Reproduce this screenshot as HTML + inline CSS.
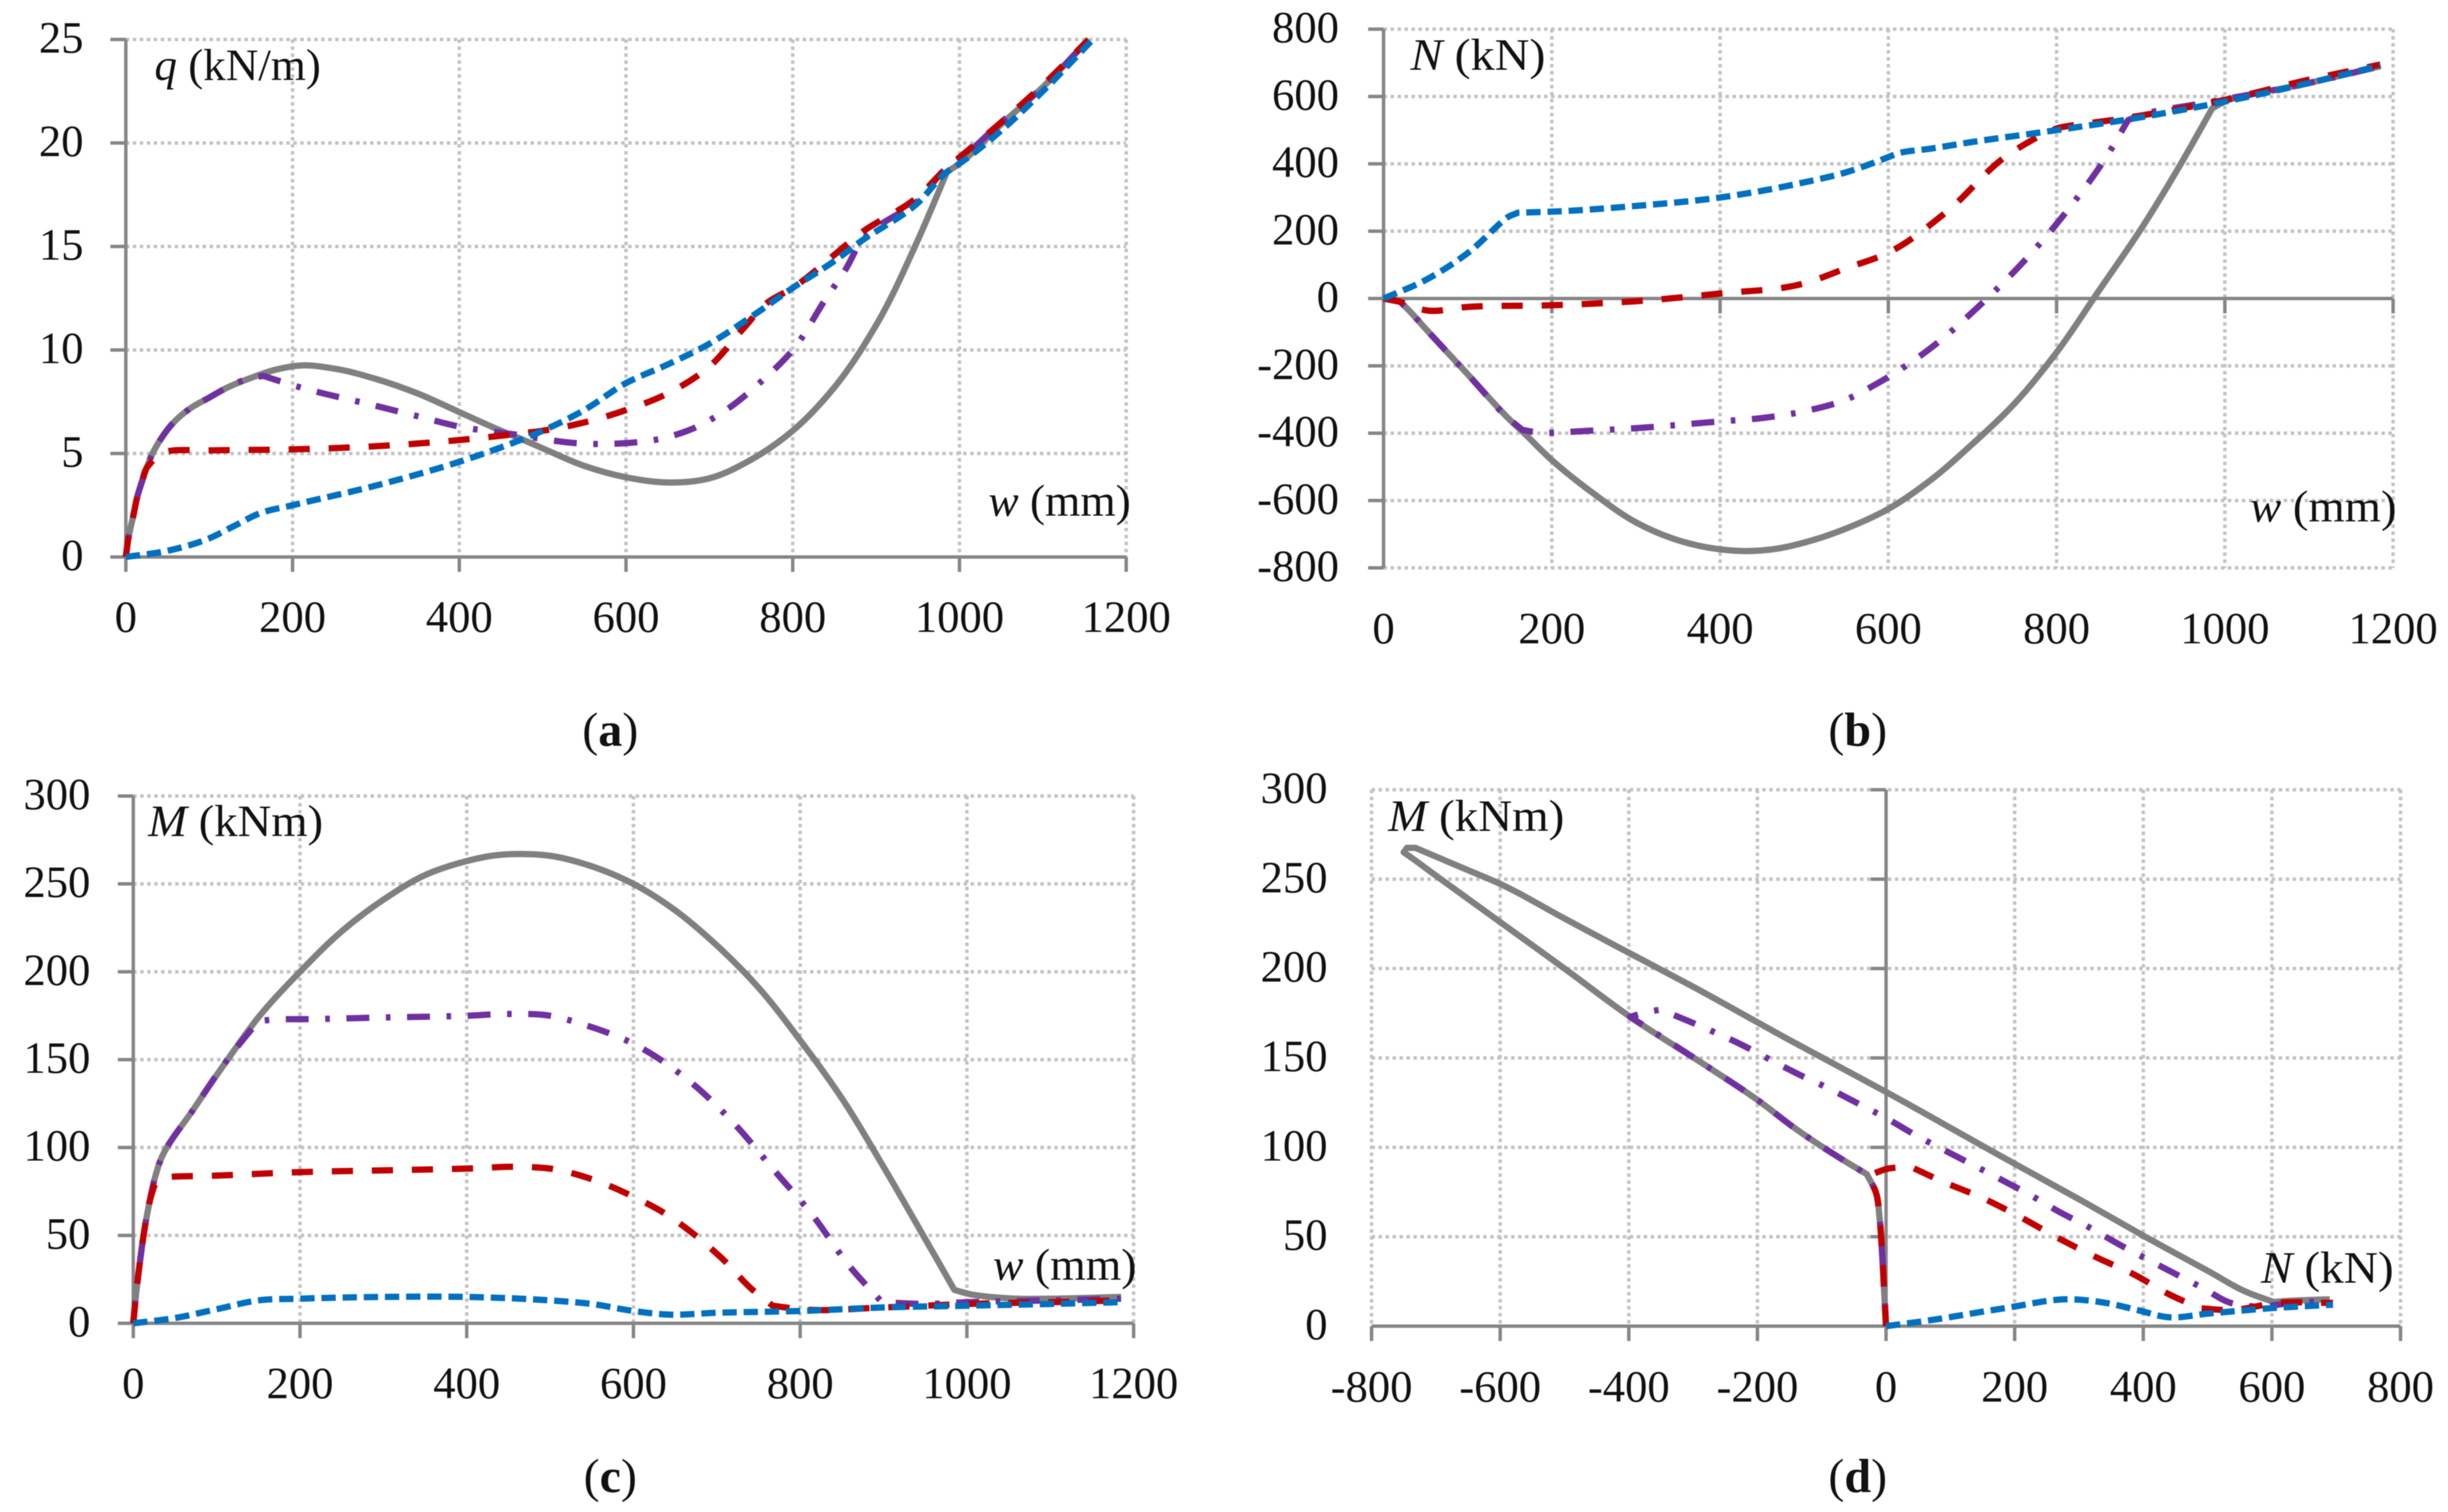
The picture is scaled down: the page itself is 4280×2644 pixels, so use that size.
<!DOCTYPE html>
<html lang="en">
<head>
<meta charset="utf-8">
<title>Load, axial force and bending moment curves</title>
<style>
html,body{margin:0;padding:0;background:#fff;}
#figure{display:block;filter:blur(0.9px);}
text{font-family:"Liberation Serif","DejaVu Serif",serif;font-size:78px;fill:#111;}
.cap{font-size:84px;}
.cap-letter{font-weight:bold;}
.it{font-style:italic;}
</style>
</head>
<body>
<svg id="figure" xmlns="http://www.w3.org/2000/svg" width="4280" height="2644" viewBox="0 0 4280 2644">
  <rect width="4280" height="2644" fill="#fff"/>

  <g id="panel-a"></g>
  <g id="panel-b"></g>
  <g id="panel-c"></g>
  <g id="panel-d"></g>

  <text x="270" y="140" textLength="291" lengthAdjust="spacingAndGlyphs"><tspan class="it">q</tspan> (kN/m)</text>
  <text x="1728" y="902" textLength="249" lengthAdjust="spacingAndGlyphs"><tspan class="it">w</tspan> (mm)</text>
  <text class="cap" x="1067" y="1304" text-anchor="middle">(<tspan class="cap-letter">a</tspan>)</text>

  <text x="2466" y="122" textLength="236" lengthAdjust="spacingAndGlyphs"><tspan class="it">N</tspan> (kN)</text>
  <text x="3934" y="912" textLength="256" lengthAdjust="spacingAndGlyphs"><tspan class="it">w</tspan> (mm)</text>
  <text class="cap" x="3248" y="1304" text-anchor="middle">(<tspan class="cap-letter">b</tspan>)</text>

  <text x="259" y="1462" textLength="306" lengthAdjust="spacingAndGlyphs"><tspan class="it">M</tspan> (kNm)</text>
  <text x="1736" y="2238" textLength="251" lengthAdjust="spacingAndGlyphs"><tspan class="it">w</tspan> (mm)</text>
  <text class="cap" x="1067" y="2609" text-anchor="middle">(<tspan class="cap-letter">c</tspan>)</text>

  <text x="2427" y="1453" textLength="308" lengthAdjust="spacingAndGlyphs"><tspan class="it">M</tspan> (kNm)</text>
  <text x="3953" y="2243" textLength="232" lengthAdjust="spacingAndGlyphs"><tspan class="it">N</tspan> (kN)</text>
  <text class="cap" x="3248" y="2609" text-anchor="middle">(<tspan class="cap-letter">d</tspan>)</text>
</svg>

<script>
// ---------- tick labels ----------
const wTicks = [0, 200, 400, 600, 800, 1000, 1200];
const qTicks = [0, 5, 10, 15, 20, 25];
const nTicksY = [-800, -600, -400, -200, 0, 200, 400, 600, 800];
const mTicks = [0, 50, 100, 150, 200, 250, 300];
const nTicksX = [-800, -600, -400, -200, 0, 200, 400, 600, 800];

// ---------- panel (a): q vs w ----------
const aGrayW = [0,3,9,14,19,25,32,42,55,78,100,120,150,180,210,250,300,350,400,450,480,500,550,600,650,700,750,800,850,900,950,985,1000,1050,1100,1155];
const aGrayQ = [0,0.9,2,2.95,3.6,4.3,5,5.7,6.4,7.2,7.7,8.15,8.65,9.05,9.25,9.1,8.6,7.9,7,6.1,5.6,5.25,4.4,3.85,3.6,3.8,4.7,6.1,8.2,11.2,15.3,18.6,19,20.9,22.7,25];
const aPurpleW = [0,3,9,14,19,25,32,42,55,78,100,120,150,165,200,300,350,400,450,470,500,540,600,640,680,720,760,800,840,865,880,900,950,985,1000,1050,1100,1155];
const aPurpleQ = [0,0.9,2,2.95,3.6,4.3,5,5.7,6.4,7.2,7.7,8.15,8.65,8.75,8.3,7.3,6.8,6.3,6,5.9,5.7,5.5,5.5,5.7,6.2,7.1,8.4,10,12.5,14,15.2,15.9,17.2,18.8,19.2,21,22.7,25];
const aRedW = [0,3,9,14,19,25,31,40,50,100,200,300,400,470,500,550,600,650,700,740,770,800,850,880,950,985,1000,1050,1100,1155];
const aRedQ = [0,0.9,2,2.95,3.6,4.3,4.6,4.95,5.1,5.15,5.2,5.35,5.65,5.95,6.1,6.5,7.1,7.9,9.2,11,12.3,13,14.6,15.6,17.4,18.8,19.3,21,22.8,25];
const aBlueW = [0,50,100,130,160,200,300,400,470,500,550,600,650,700,750,800,850,880,950,985,1000,1050,1100,1160];
const aBlueQ = [0,0.3,0.9,1.5,2.1,2.5,3.45,4.6,5.6,6.1,7.1,8.4,9.3,10.3,11.6,13,14.3,15.2,17.1,18.6,19,20.6,22.5,25];

// ---------- panel (b): N vs w ----------
const bGrayW = [0,20,30,50,100,150,165,200,250,300,350,400,430,470,500,550,600,650,700,750,800,850,900,950,985,1000,1100,1185];
const bGrayN = [0,-10,-35,-90,-225,-360,-395,-480,-580,-665,-718,-745,-750,-742,-725,-683,-625,-540,-432,-312,-160,22,205,410,565,585,640,690];
const bPurpleW = [0,20,30,50,100,150,165,180,250,300,400,450,500,550,585,650,708,761,813,859,885,900,985,1100,1185];
const bPurpleN = [0,-10,-35,-90,-225,-360,-390,-397,-392,-385,-365,-355,-335,-300,-255,-148,-22,110,262,420,530,545,585,640,690];
const bRedW = [0,20,35,50,100,200,300,400,500,550,599,668,743,790,800,880,1000,1100,1185];
const bRedN = [0,-10,-25,-35,-25,-20,-8,15,45,90,135,255,428,495,505,535,590,650,695];
const bBlueW = [0,50,100,150,160,200,300,400,500,550,600,610,650,700,800,880,1000,1100,1185];
const bBlueN = [0,55,135,245,255,258,275,300,345,375,420,430,445,465,500,530,585,640,692];

// ---------- panel (c): M vs w ----------
const cGrayW = [0,3,8,14,20,25,32,74,116,150,200,250,300,350,400,430,465,500,550,600,650,700,750,800,850,900,950,985,1000,1060,1100,1185];
const cGrayM = [0,15,35,55,70,81,92,123,152,174,200,223,241,255,263,266,267,266,260,250,235,215,191,161,128,89,48,19,17,14,14,15];
const cPurpleW = [0,3,8,14,20,25,32,74,116,150,175,200,300,400,450,500,540,600,664,720,767,814,860,898,950,1000,1100,1185];
const cPurpleM = [0,15,35,55,70,81,92,123,152,172,173,173,174,175,176,175,170,159,139,114,88,62,32,12,11,12,13,14];
const cRedW = [0,3,8,14,20,25,32,40,100,200,300,400,470,500,550,600,636,669,706,743,767,800,900,1000,1100,1185];
const cRedM = [0,15,35,55,70,78,82,83,84,86,87,88,89,88,82,72,63,52,37,19,10,8,9,11,12,13];
const cBlueW = [0,50,100,150,200,300,400,500,550,600,640,700,800,900,1000,1100,1185];
const cBlueM = [0,3,8,13,14,15,15,13,11,7,5,6,7,9,10,11,12];

// ---------- panel (d): M vs N ----------
const dGrayN = [0,-3,-6,-10,-16,-30,-58,-143,-198,-277,-398,-500,-604,-700,-738,-750,-745,-732,-650,-604,-500,-422,-301,-150,0,184,300,403,500,561,603,620,690];
const dGrayM = [0,20,40,60,75,85,91,111,126,145,173,200,227,252,262,265,267.5,267.5,255,248,228,213,190,160,131,94,71,50,31,19,13.5,14,15];
const dPurpleN = [0,-3,-6,-10,-16,-30,-58,-143,-198,-277,-398,-368,-350,-277,-228,-180,-137,-95,-46,2,45,93,136,184,221,269,312,366,403,451,494,536,573,633,690];
const dPurpleM = [0,20,40,60,75,85,91,111,126,145,173,176,177,166,158,149,141,134,125,116,107,98,90,81,74,64,56,45,38,29,21,13,11,13,14];
const dRedN = [0,-3,-6,-10,-16,-28,2,39,87,148,209,269,330,385,439,488,536,609,695];
const dRedM = [0,20,40,60,75,84,88,89,81,72,61,49,38,29,18,10,9,13,13];
const dBlueN = [0,63,184,288,342,391,439,500,597,695];
const dBlueM = [0,3,10,15,13,9,5,7,10,12];

// ---------- shared drawing ----------
const NS = 'http://www.w3.org/2000/svg';
const AXIS = '#868686', GRID = '#c2c2c2';
const STYLE_GRAY = {color:'#808080', dash:'', width:11};
const STYLE_PURPLE = {color:'#7030a0', dash:'40 29 8 29', width:11};
const STYLE_RED = {color:'#c00000', dash:'37 33', width:11};
const STYLE_BLUE = {color:'#0070c0', dash:'25 12', width:11};

function make(tag, attrs, parent){
  const el = document.createElementNS(NS, tag);
  for (const k in attrs) el.setAttribute(k, attrs[k]);
  parent.appendChild(el);
  return el;
}

function linearScale(d0, d1, p0, p1){
  return v => p0 + (v - d0) / (d1 - d0) * (p1 - p0);
}

// Non-uniform Catmull-Rom through the data points; a sharp bend stays a corner,
// and control handles are capped by the neighbouring segment to avoid overshoot.
function smoothPath(xs, ys, sx, sy){
  const pts = xs.map((x, i) => [sx(x), sy(ys[i])]);
  const n = pts.length;
  const dist = (a, b) => Math.hypot(b[0] - a[0], b[1] - a[1]) || 1;
  const tangents = pts.map((p, i) => {
    if (i === 0 || i === n - 1){
      const a = pts[i === 0 ? 0 : i - 1], b = pts[i === 0 ? 1 : i];
      const l = dist(a, b);
      const u = [(b[0] - a[0]) / l, (b[1] - a[1]) / l];
      return {inn:u, out:u};
    }
    const a = pts[i - 1], b = pts[i + 1];
    const d0 = dist(a, p), d1 = dist(p, b);
    const u0 = [(p[0] - a[0]) / d0, (p[1] - a[1]) / d0];
    const u1 = [(b[0] - p[0]) / d1, (b[1] - p[1]) / d1];
    if (u0[0] * u1[0] + u0[1] * u1[1] < 0.94) return {inn:u0, out:u1};
    const t = [(u0[0] * d1 + u1[0] * d0) / (d0 + d1), (u0[1] * d1 + u1[1] * d0) / (d0 + d1)];
    return {inn:t, out:t};
  });
  let d = 'M' + pts[0][0].toFixed(1) + ' ' + pts[0][1].toFixed(1);
  for (let i = 0; i < n - 1; i++){
    const p = pts[i], q = pts[i + 1], seg = dist(p, q);
    const prevSeg = i > 0 ? dist(pts[i - 1], p) : seg;
    const nextSeg = i < n - 2 ? dist(q, pts[i + 2]) : seg;
    const len0 = Math.min(seg / 3, prevSeg), len1 = Math.min(seg / 3, nextSeg);
    const t0 = tangents[i].out, t1 = tangents[i + 1].inn;
    d += 'C' + (p[0] + t0[0] * len0).toFixed(1) + ' ' + (p[1] + t0[1] * len0).toFixed(1) + ' ' +
         (q[0] - t1[0] * len1).toFixed(1) + ' ' + (q[1] - t1[1] * len1).toFixed(1) + ' ' +
         q[0].toFixed(1) + ' ' + q[1].toFixed(1);
  }
  return d;
}

function drawFrame(root, cfg){
  const sx = linearScale(cfg.xTicks[0], cfg.xTicks[cfg.xTicks.length - 1], cfg.left, cfg.right);
  const sy = linearScale(cfg.yTicks[0], cfg.yTicks[cfg.yTicks.length - 1], cfg.bottom, cfg.top);
  const axisX = sx(cfg.yAxisAt), axisY = sy(cfg.xAxisAt);

  cfg.xTicks.forEach(v => {
    const gridline = make('line', {x1:sx(v), x2:sx(v), y1:cfg.top, y2:cfg.bottom, stroke:GRID, 'stroke-width':6, 'stroke-dasharray':'6 6.2'}, root);
    
    
  });
  cfg.yTicks.forEach(v => {
    const gridline = make('line', {x1:cfg.left, x2:cfg.right, y1:sy(v), y2:sy(v), stroke:GRID, 'stroke-width':6, 'stroke-dasharray':'6 6.2'}, root);
    
    
  });

  const xAxis = make('line', {x1:cfg.left, x2:cfg.right, y1:axisY, y2:axisY, stroke:AXIS, 'stroke-width':6}, root);
  
  
  const yAxis = make('line', {x1:axisX, x2:axisX, y1:cfg.top, y2:cfg.bottom, stroke:AXIS, 'stroke-width':6}, root);
  
  

  cfg.xTicks.forEach(v => {
    const tick = make('line', {x1:sx(v), x2:sx(v), y1:axisY, y2:axisY + 26, stroke:AXIS, 'stroke-width':6}, root);
    
    
    const label = make('text', {x:sx(v), y:cfg.xLabelY, 'text-anchor':'middle'}, root);
    label.textContent = String(v);
    
    
  });
  cfg.yTicks.forEach(v => {
    const tick = make('line', {x1:axisX - 27, x2:axisX, y1:sy(v), y2:sy(v), stroke:AXIS, 'stroke-width':6}, root);
    
    
    const label = make('text', {x:cfg.yLabelX, y:sy(v) + 23, 'text-anchor':'end'}, root);
    label.textContent = String(v);
    
    
  });
  return {sx, sy};
}

function drawSeries(root, xs, ys, style, scale){
  const line = make('path', {d:smoothPath(xs, ys, scale.sx, scale.sy), fill:'none', stroke:style.color, 'stroke-width':style.width, 'stroke-linejoin':'round', 'stroke-dasharray':style.dash}, root);
  return line;
}

// ---------- panel a ----------
const rootA = document.getElementById('panel-a');
const scaleA = drawFrame(rootA, {left:220, right:1969, top:69, bottom:974, xTicks:wTicks, yTicks:qTicks, xAxisAt:0, yAxisAt:0, xLabelY:1105, yLabelX:146});
const aGrayLine = drawSeries(rootA, aGrayW, aGrayQ, STYLE_GRAY, scaleA);


const aPurpleLine = drawSeries(rootA, aPurpleW, aPurpleQ, STYLE_PURPLE, scaleA);


const aRedLine = drawSeries(rootA, aRedW, aRedQ, STYLE_RED, scaleA);


const aBlueLine = drawSeries(rootA, aBlueW, aBlueQ, STYLE_BLUE, scaleA);



// ---------- panel b ----------
const rootB = document.getElementById('panel-b');
const scaleB = drawFrame(rootB, {left:2419, right:4184, top:51, bottom:993, xTicks:wTicks, yTicks:nTicksY, xAxisAt:0, yAxisAt:0, xLabelY:1125, yLabelX:2341});
const bGrayLine = drawSeries(rootB, bGrayW, bGrayN, STYLE_GRAY, scaleB);


const bPurpleLine = drawSeries(rootB, bPurpleW, bPurpleN, STYLE_PURPLE, scaleB);


const bRedLine = drawSeries(rootB, bRedW, bRedN, STYLE_RED, scaleB);


const bBlueLine = drawSeries(rootB, bBlueW, bBlueN, STYLE_BLUE, scaleB);



// ---------- panel c ----------
const rootC = document.getElementById('panel-c');
const scaleC = drawFrame(rootC, {left:233, right:1982, top:1392, bottom:2314, xTicks:wTicks, yTicks:mTicks, xAxisAt:0, yAxisAt:0, xLabelY:2445, yLabelX:158});
const cGrayLine = drawSeries(rootC, cGrayW, cGrayM, STYLE_GRAY, scaleC);


const cPurpleLine = drawSeries(rootC, cPurpleW, cPurpleM, STYLE_PURPLE, scaleC);


const cRedLine = drawSeries(rootC, cRedW, cRedM, STYLE_RED, scaleC);


const cBlueLine = drawSeries(rootC, cBlueW, cBlueM, STYLE_BLUE, scaleC);



// ---------- panel d ----------
const rootD = document.getElementById('panel-d');
const scaleD = drawFrame(rootD, {left:2398, right:4197, top:1381, bottom:2319, xTicks:nTicksX, yTicks:mTicks, xAxisAt:0, yAxisAt:0, xLabelY:2451, yLabelX:2321});
const dGrayLine = drawSeries(rootD, dGrayN, dGrayM, STYLE_GRAY, scaleD);


const dPurpleLine = drawSeries(rootD, dPurpleN, dPurpleM, STYLE_PURPLE, scaleD);


const dRedLine = drawSeries(rootD, dRedN, dRedM, STYLE_RED, scaleD);


const dBlueLine = drawSeries(rootD, dBlueN, dBlueM, STYLE_BLUE, scaleD);


</script>
</body>
</html>
